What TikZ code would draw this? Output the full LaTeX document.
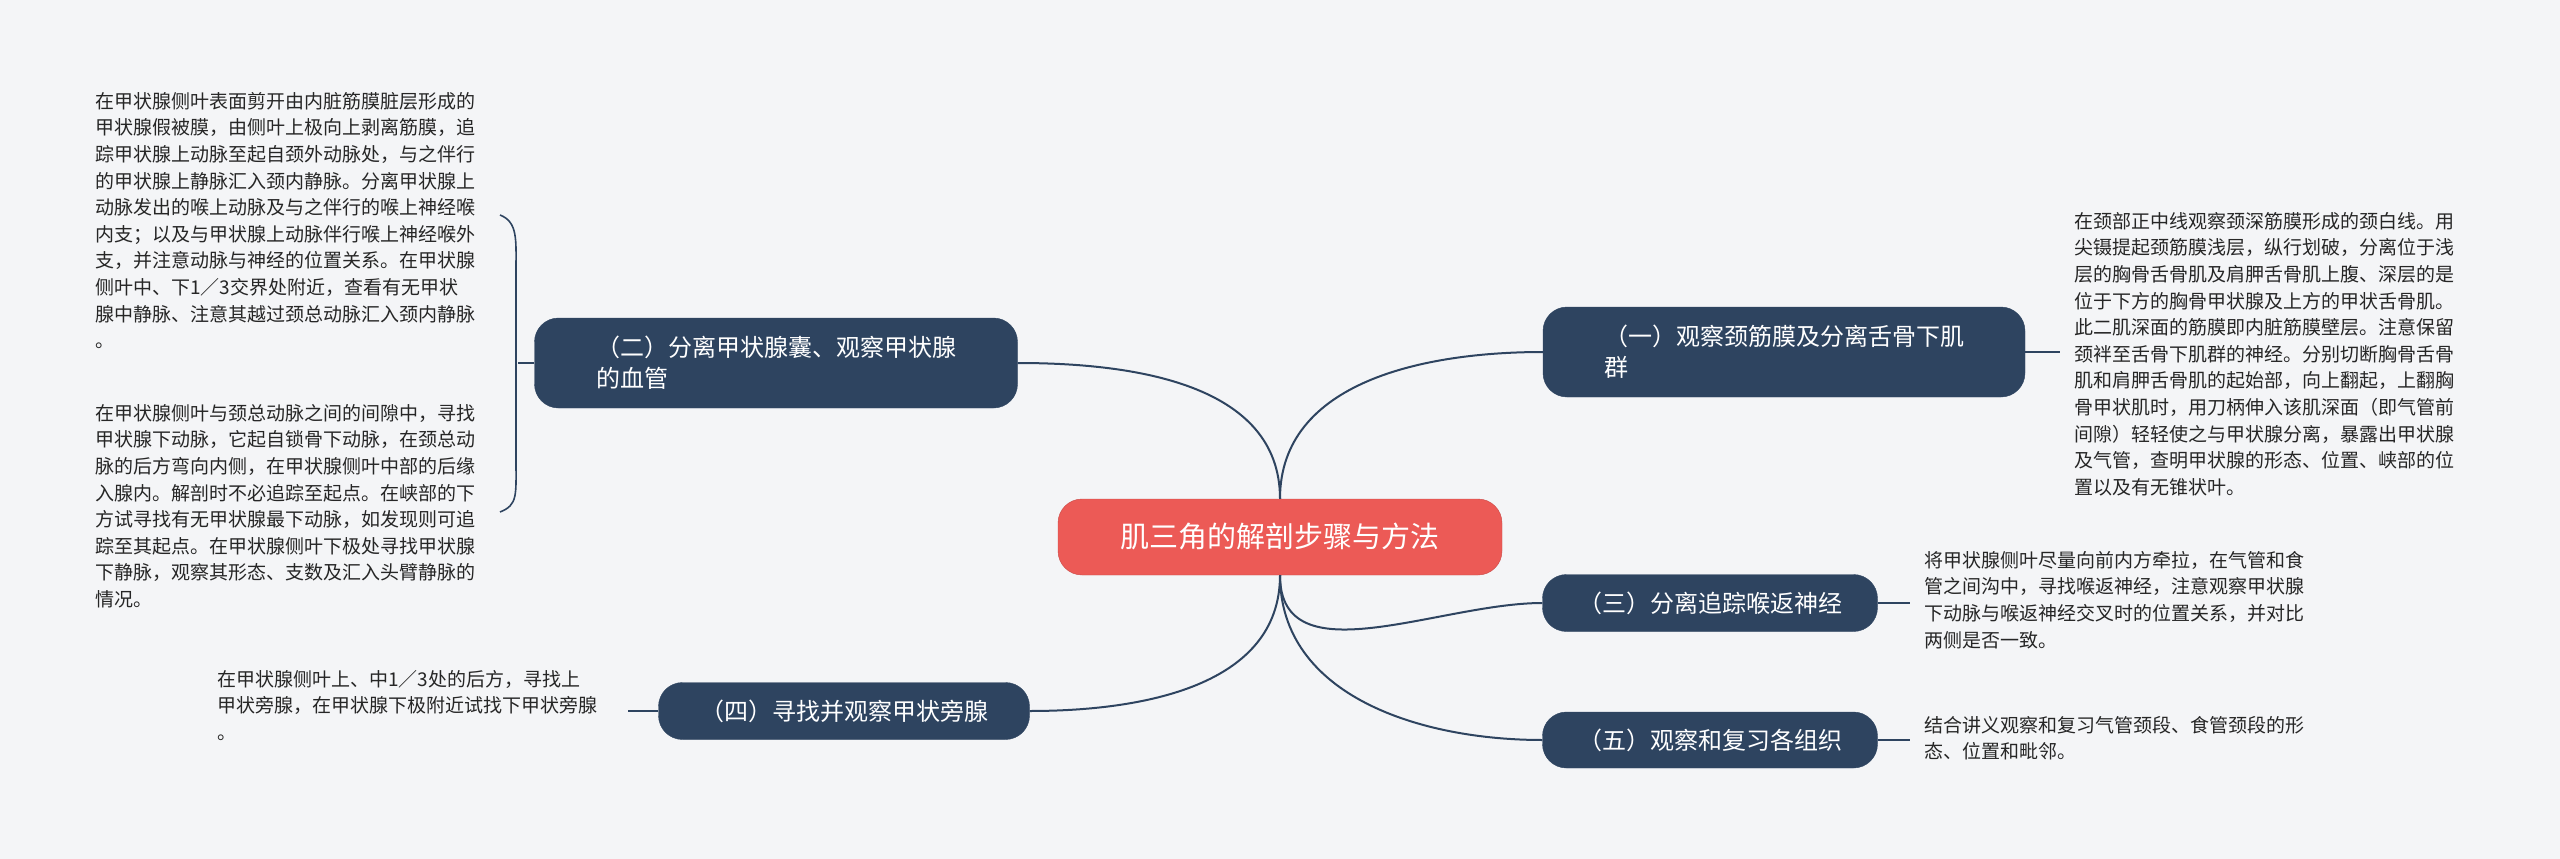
\documentclass[tikz,border=0pt]{standalone}
\usepackage{fontspec}
\setmainfont{Noto Sans CJK SC}
\definecolor{bg}{HTML}{F4F5F7}
\definecolor{navy}{HTML}{2E4460}
\definecolor{redc}{HTML}{EC5A56}
\begin{document}
\begin{tikzpicture}[x=1pt,y=-1pt,
  br/.style={fill=navy,draw=navy,rounded corners=24pt,text=white,font=\fontsize{24}{31}\selectfont,align=left,anchor=west,inner xsep=22pt,inner ysep=12pt},
  tx/.style={inner sep=0pt,anchor=north west,align=left,text=black!85,font=\fontsize{19}{26.6}\selectfont},
  ln/.style={draw=navy,line width=2pt}]
\fill[bg] (0,0) rectangle (2560,859);
\useasboundingbox (0,0) rectangle (2560,859);
\node[fill=redc,draw=redc!85!black,rounded corners=24pt,text=white,font=\fontsize{29}{36}\selectfont,minimum width=444pt,minimum height=76pt] (c) at (1280,537) {肌三角的解剖步骤与方法};
\node[br,minimum width=483pt,minimum height=90pt,anchor=center] (n2) at (776,363) {（二）分离甲状腺囊、观察甲状腺\\的血管};
\node[br,minimum width=482pt,minimum height=90pt,anchor=center] (n1) at (1784,352) {（一）观察颈筋膜及分离舌骨下肌\\群};
\node[br,minimum width=335pt,minimum height=57pt,anchor=center] (n3) at (1710,603) {（三）分离追踪喉返神经};
\node[br,minimum width=371pt,minimum height=57pt,anchor=center] (n4) at (844,711) {（四）寻找并观察甲状旁腺};
\node[br,minimum width=335pt,minimum height=56pt,anchor=center] (n5) at (1710,740) {（五）观察和复习各组织};
\draw[ln] (c.north) to[out=90,in=0] (n2.east);
\draw[ln] (c.north) to[out=90,in=180] (n1.west);
\draw[ln] (c.south) to[out=-90,in=180] (n3.west);
\draw[ln] (c.south) to[out=-90,in=180] (n5.west);
\draw[ln] (c.south) to[out=-90,in=0] (n4.east);
\node[tx] (t2a) at (95,92) {在甲状腺侧叶表面剪开由内脏筋膜脏层形成的\\甲状腺假被膜，由侧叶上极向上剥离筋膜，追\\踪甲状腺上动脉至起自颈外动脉处，与之伴行\\的甲状腺上静脉汇入颈内静脉。分离甲状腺上\\动脉发出的喉上动脉及与之伴行的喉上神经喉\\内支；以及与甲状腺上动脉伴行喉上神经喉外\\支，并注意动脉与神经的位置关系。在甲状腺\\侧叶中、下1／3交界处附近，查看有无甲状\\腺中静脉、注意其越过颈总动脉汇入颈内静脉\\。};
\node[tx] (t2b) at (95,404) {在甲状腺侧叶与颈总动脉之间的间隙中，寻找\\甲状腺下动脉，它起自锁骨下动脉，在颈总动\\脉的后方弯向内侧，在甲状腺侧叶中部的后缘\\入腺内。解剖时不必追踪至起点。在峡部的下\\方试寻找有无甲状腺最下动脉，如发现则可追\\踪至其起点。在甲状腺侧叶下极处寻找甲状腺\\下静脉，观察其形态、支数及汇入头臂静脉的\\情况。};
\coordinate (b) at (518,363);
\draw[ln,line width=1.6pt] (500,215) .. controls (518,222) and (516,240) .. (516,270) -- (516,460) .. controls (516,495) and (518,505) .. (500,512);
\draw[ln] (n2.west) -- (b);
\node[tx] (t1) at (2074,212) {在颈部正中线观察颈深筋膜形成的颈白线。用\\尖镊提起颈筋膜浅层，纵行划破，分离位于浅\\层的胸骨舌骨肌及肩胛舌骨肌上腹、深层的是\\位于下方的胸骨甲状腺及上方的甲状舌骨肌。\\此二肌深面的筋膜即内脏筋膜壁层。注意保留\\颈袢至舌骨下肌群的神经。分别切断胸骨舌骨\\肌和肩胛舌骨肌的起始部，向上翻起，上翻胸\\骨甲状肌时，用刀柄伸入该肌深面（即气管前\\间隙）轻轻使之与甲状腺分离，暴露出甲状腺\\及气管，查明甲状腺的形态、位置、峡部的位\\置以及有无锥状叶。};
\draw[ln] (n1.east) -- (2060,352);
\node[tx] (t3) at (1924,551) {将甲状腺侧叶尽量向前内方牵拉，在气管和食\\管之间沟中，寻找喉返神经，注意观察甲状腺\\下动脉与喉返神经交叉时的位置关系，并对比\\两侧是否一致。};
\draw[ln] (n3.east) -- (1910,603);
\node[tx] (t4) at (217,670) {在甲状腺侧叶上、中1／3处的后方，寻找上\\甲状旁腺，在甲状腺下极附近试找下甲状旁腺\\。};
\draw[ln] (n4.west) -- (628,711);
\node[tx] (t5) at (1924,716) {结合讲义观察和复习气管颈段、食管颈段的形\\态、位置和毗邻。};
\draw[ln] (n5.east) -- (1910,740);
\end{tikzpicture}
\end{document}
